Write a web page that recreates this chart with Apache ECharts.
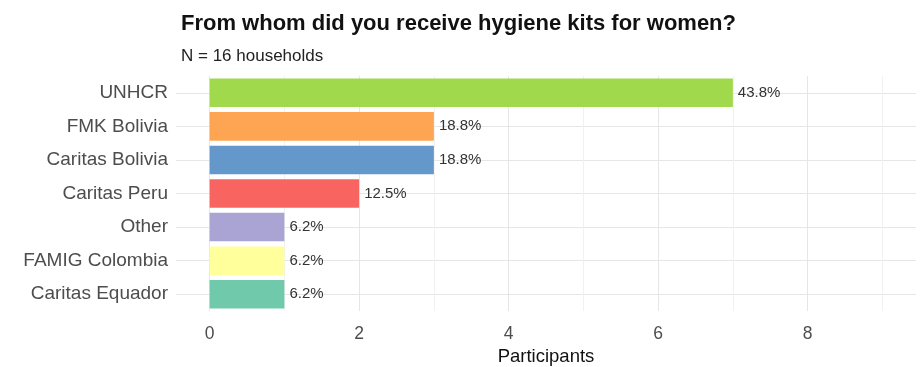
<!DOCTYPE html>
<html>
<head>
<meta charset="utf-8">
<script src="https://cdn.jsdelivr.net/npm/echarts@6/dist/echarts.min.js"></script>
<style>
html,body{margin:0;padding:0;background:#fff;}
#chart{width:921px;height:367px;}
</style>
</head>
<body>
<div id="chart"></div>
<script>
const categories = ['UNHCR', 'FMK Bolivia', 'Caritas Bolivia', 'Caritas Peru', 'Other', 'FAMIG Colombia', 'Caritas Equador'];
const counts = [7, 3, 3, 2, 1, 1, 1];
const pctLabels = ['43.8%', '18.8%', '18.8%', '12.5%', '6.2%', '6.2%', '6.2%'];
const barColors = ['#a0d94c', '#fda552', '#6498cb', '#f8645f', '#aaa4d4', '#ffff9c', '#70c9ab'];
const xTickLabels = [0, 2, 4, 6, 8];
const xGridValues = [0, 1, 2, 3, 4, 5, 6, 7, 8, 9];

const FONT = '"Liberation Sans", Arial, Helvetica, sans-serif';
const chart = echarts.init(document.getElementById('chart'), null, {renderer: 'canvas'});

const option = {
  backgroundColor: '#ffffff',
  animation: false,
  title: [
    {
      text: 'From whom did you receive hygiene kits for women?',
      left: 176, top: 8,
      textStyle: {fontFamily: FONT, fontSize: 22, fontWeight: 'bold', color: '#111'}
    },
    {
      text: 'N = 16 households',
      left: 176, top: 43,
      textStyle: {fontFamily: FONT, fontSize: 17, fontWeight: 'normal', color: '#222'}
    }
  ],
  grid: {left: 176, right: 5, top: 76, height: 235, containLabel: false, outerBoundsMode: 'none'},
  xAxis: {
    type: 'value',
    min: -0.45, max: 9.45,
    name: 'Participants',
    nameLocation: 'middle',
    nameGap: 31,
    nameTextStyle: {fontFamily: FONT, fontSize: 18.5, color: '#111'},
    axisLine: {show: false},
    axisTick: {show: false, customValues: xGridValues},
    axisLabel: {customValues: xTickLabels, fontFamily: FONT, fontSize: 17.5, color: '#4d4d4d', margin: 14},
    splitLine: {show: true, lineStyle: {color: ['#e6e6e6', '#f1f1f1'], width: 1}}
  },
  yAxis: [
    {
      type: 'category',
      data: categories,
      inverse: true,
      axisLine: {show: false},
      axisTick: {show: false},
      splitLine: {show: false},
      axisLabel: {fontFamily: FONT, fontSize: 19, color: '#4d4d4d', margin: 8}
    },
    {
      type: 'value',
      min: 0, max: categories.length,
      inverse: true,
      position: 'left',
      axisLine: {show: false},
      axisTick: {show: false, customValues: categories.map((c, i) => i + 0.5)},
      axisLabel: {show: false},
      splitLine: {show: true, lineStyle: {color: '#e6e6e6', width: 1}}
    }
  ],
  series: [
    {
      type: 'bar',
      xAxisIndex: 0,
      yAxisIndex: 0,
      barCategoryGap: '15%',
      data: counts.map((v, i) => ({value: v, itemStyle: {color: barColors[i]}})),
      label: {
        show: true,
        position: 'right',
        distance: 5,
        fontFamily: FONT,
        fontSize: 15,
        color: '#333',
        formatter: p => pctLabels[p.dataIndex]
      }
    }
  ]
};
chart.setOption(option);
</script>
</body>
</html>
